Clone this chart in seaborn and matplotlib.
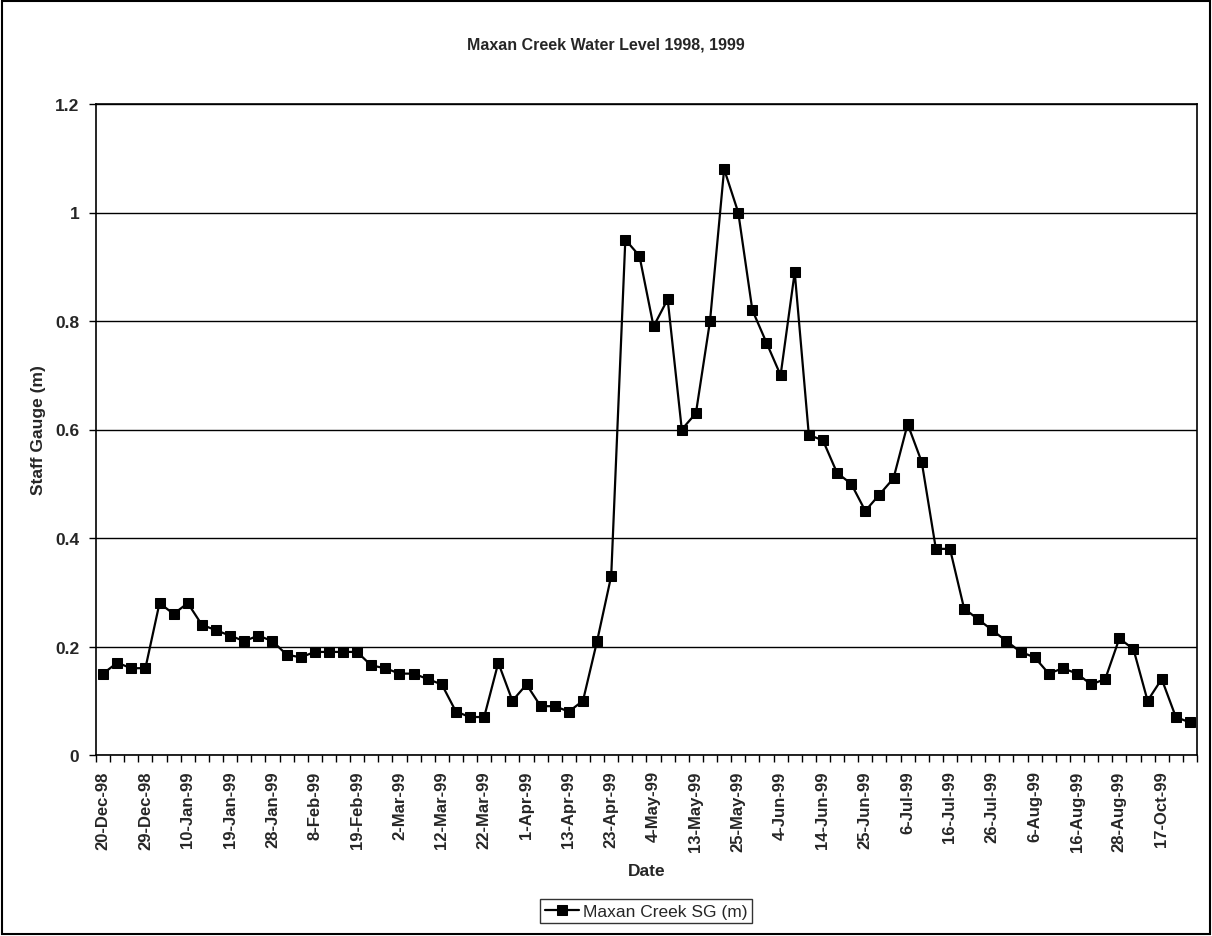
import numpy as np
import pandas as pd
import matplotlib
matplotlib.use("Agg")
import matplotlib.pyplot as plt
from matplotlib.patches import Rectangle
from matplotlib.ticker import FixedLocator
from matplotlib import font_manager
import seaborn as sns

# Staff gauge readings (m), one per survey visit, in order
gauge_m = [
    0.15, 0.17, 0.16, 0.16, 0.28, 0.26, 0.28, 0.24, 0.23, 0.22,
    0.21, 0.22, 0.21, 0.185, 0.18, 0.19, 0.19, 0.19, 0.19, 0.165,
    0.16, 0.15, 0.15, 0.14, 0.13, 0.08, 0.07, 0.07, 0.17, 0.10,
    0.13, 0.09, 0.09, 0.08, 0.10, 0.21, 0.33, 0.95, 0.92, 0.79,
    0.84, 0.60, 0.63, 0.80, 1.08, 1.00, 0.82, 0.76, 0.70, 0.89,
    0.59, 0.58, 0.52, 0.50, 0.45, 0.48, 0.51, 0.61, 0.54, 0.38,
    0.38, 0.27, 0.25, 0.23, 0.21, 0.19, 0.18, 0.15, 0.16, 0.15,
    0.13, 0.14, 0.215, 0.195, 0.10, 0.14, 0.07, 0.06,
]

# Date labels shown on the category axis (every third visit)
date_labels = [
    "20-Dec-98", "29-Dec-98", "10-Jan-99", "19-Jan-99", "28-Jan-99",
    "8-Feb-99", "19-Feb-99", "2-Mar-99", "12-Mar-99", "22-Mar-99",
    "1-Apr-99", "13-Apr-99", "23-Apr-99", "4-May-99", "13-May-99",
    "25-May-99", "4-Jun-99", "14-Jun-99", "25-Jun-99", "6-Jul-99",
    "16-Jul-99", "26-Jul-99", "6-Aug-99", "16-Aug-99", "28-Aug-99",
    "17-Oct-99",
]
label_step = 3

y_ticks = [0, 0.2, 0.4, 0.6, 0.8, 1.0, 1.2]
y_tick_labels = ["0", "0.2", "0.4", "0.6", "0.8", "1", "1.2"]

series_name = "Maxan Creek SG (m)"
chart_title = "Maxan Creek Water Level 1998, 1999"

sns.set_theme(style="white")
plt.rcParams["font.family"] = ["Liberation Sans", "DejaVu Sans"]

# condensed face for the title when available
available = {f.name for f in font_manager.fontManager.ttflist}
if "Liberation Sans Narrow" in available:
    title_family, title_size = ["Liberation Sans Narrow", "Liberation Sans"], 13
else:
    title_family, title_size = ["Liberation Sans", "DejaVu Sans"], 11.5

df = pd.DataFrame({"visit": np.arange(len(gauge_m)), "level": gauge_m,
                   "series": series_name})

W, H = 1212, 937
fig = plt.figure(figsize=(W / 100, H / 100), dpi=100)
ax = fig.add_axes([96 / W, 1 - 756 / H, (1197 - 96) / W, (756 - 105) / H])

sns.lineplot(data=df, x="visit", y="level", hue="series", palette=["black"],
             marker="s", markersize=6.5, markeredgecolor="black",
             linewidth=1.6, ax=ax, legend=True)

n = len(gauge_m)
ax.set_xlim(-0.5, n - 0.5)
ax.set_ylim(0, 1.2)

# category axis: labels on every third visit, tick marks between categories
ax.set_xticks(np.arange(0, len(date_labels) * label_step, label_step))
ax.set_xticklabels(date_labels, rotation=90, fontsize=12, fontweight="bold")
ax.xaxis.set_minor_locator(FixedLocator(np.arange(-0.5, n, 1.0)))
ax.tick_params(axis="x", which="major", length=0, pad=11)
ax.tick_params(axis="x", which="minor", length=5, width=1, color="black",
               direction="out", bottom=True)

ax.set_yticks(y_ticks)
ax.set_yticklabels(y_tick_labels, fontsize=12.5, fontweight="bold")
ax.tick_params(axis="y", which="major", length=5, width=1, color="black",
               direction="out", left=True, pad=7)

ax.yaxis.grid(True, color="black", linewidth=1)
ax.xaxis.grid(False)
ax.set_axisbelow(True)

for side, sp in ax.spines.items():
    sp.set_visible(True)
    sp.set_color("black")
    sp.set_linewidth(1.2)

ax.set_xlabel("Date", fontsize=12.5, fontweight="bold")
ax.set_ylabel("Staff Gauge (m)", fontsize=12.5, fontweight="bold")
ax.xaxis.set_label_coords(0.5, (756 - 872) / (756 - 105), transform=ax.transAxes)
ax.yaxis.set_label_coords((38 - 96) / (1197 - 96), 0.5, transform=ax.transAxes)
ax.xaxis.label.set_va("center")
ax.yaxis.label.set_va("center")

fig.text(0.5, 1 - 45 / H, chart_title, ha="center", va="center",
         fontsize=title_size, fontweight="bold", family=title_family)

leg = ax.legend(loc="center", bbox_to_anchor=(646 / W, 1 - 912 / H),
                bbox_transform=fig.transFigure, frameon=True, fancybox=False,
                fontsize=12.5, handlelength=2.0, handletextpad=0.2,
                borderpad=0.25, borderaxespad=0, title=None)
leg.get_frame().set_edgecolor("black")
leg.get_frame().set_linewidth(1)
for t in leg.get_texts():
    t.set_text(series_name)

# outer chart border
fig.patches.append(Rectangle((2 / W, 2 / H), 1 - 4 / W, 1 - 4 / H,
                             transform=fig.transFigure, fill=False,
                             edgecolor="black", linewidth=1.5))

fig.savefig("out.png", dpi=100, facecolor="white")
